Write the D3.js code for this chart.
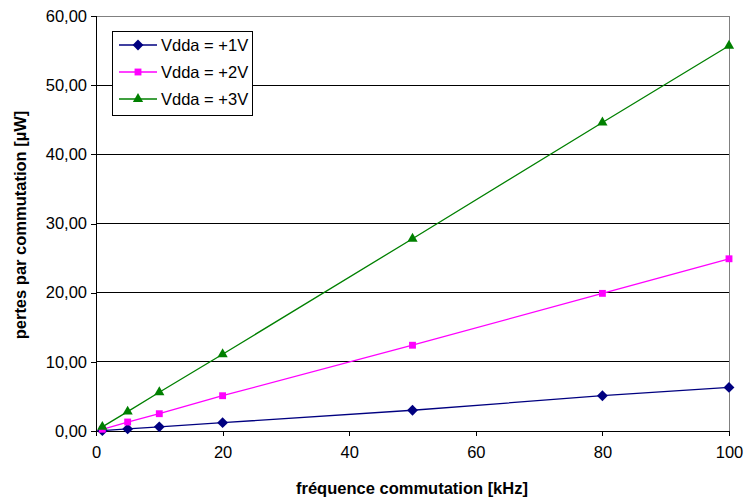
<!DOCTYPE html>
<html><head><meta charset="utf-8">
<script src="https://cdn.jsdelivr.net/npm/d3@7/dist/d3.min.js"></script>
<style>body{margin:0;background:#fff;} text{font-family:Arial,"Liberation Sans",sans-serif;}</style>
</head><body><svg id="c" width="744" height="499"></svg>
<script>
const freq = [1, 5, 10, 20, 50, 80, 100];
const vdda1 = [0.05, 0.3, 0.6, 1.2, 3.0, 5.1, 6.3];
const vdda2 = [0.25, 1.3, 2.5, 5.1, 12.4, 19.9, 24.9];
const vdda3 = [0.6, 2.8, 5.6, 11.1, 27.8, 44.6, 55.7];
const seriesNames = ["Vdda = +1V", "Vdda = +2V", "Vdda = +3V"];
const xTicks = [0, 20, 40, 60, 80, 100];
const yTicks = [0, 10, 20, 30, 40, 50, 60];

const series = [
  {name: seriesNames[0], values: vdda1, color: "#000080", shape: d3.symbolDiamond2, size: 75},
  {name: seriesNames[1], values: vdda2, color: "#ff00ff", shape: d3.symbolSquare2, size: 60},
  {name: seriesNames[2], values: vdda3, color: "#008000", shape: d3.symbolTriangle2, size: 75}
];

const svg = d3.select("#c");
const L = 96, R = 729, T = 16, B = 431;
const FS = 16.5;
const x = d3.scaleLinear().domain([0, 100]).range([L, R]);
const y = d3.scaleLinear().domain([0, 60]).range([B, T]);
const fmt = d => d3.format(".2f")(d).replace(".", ",");

// gridlines
svg.append("g").selectAll("line").data(yTicks.filter(d => d > 0 && d < 60)).join("line")
  .attr("x1", L).attr("x2", R).attr("y1", d => y(d)).attr("y2", d => y(d))
  .attr("stroke", "#000").attr("stroke-width", 1).attr("shape-rendering", "crispEdges");
// plot border top/right gray
svg.append("path").attr("d", `M${L},${T}H${R}V${B}`).attr("fill", "none")
  .attr("stroke", "#808080").attr("stroke-width", 1).attr("shape-rendering", "crispEdges");

// axes
const yAxis = d3.axisLeft(y).tickValues(yTicks).tickFormat(fmt).tickSize(5).tickPadding(4);
const gy = svg.append("g").attr("transform", `translate(${L},0)`).call(yAxis);
const xAxis = d3.axisBottom(x).tickValues(xTicks).tickSize(5).tickPadding(10);
const gx = svg.append("g").attr("transform", `translate(0,${B})`).call(xAxis);
[gx, gy].forEach(g => {
  g.select(".domain").attr("stroke", "#000").attr("shape-rendering", "crispEdges");
  g.selectAll(".tick line").attr("stroke", "#000").attr("shape-rendering", "crispEdges");
  g.selectAll("text").attr("font-size", FS).attr("fill", "#000").attr("font-family", "Arial, Liberation Sans, sans-serif");
});
gy.select(".domain").attr("d", `M-5,${B}H0V${T}H-5`);

// lines and markers
const line = d3.line().x((d, i) => x(freq[i])).y(d => y(d));
series.forEach(s => {
  svg.append("path").datum(s.values).attr("d", line).attr("fill", "none")
    .attr("stroke", s.color).attr("stroke-width", 1.3);
  svg.append("g").selectAll("path").data(s.values).join("path")
    .attr("d", d3.symbol().type(s.shape).size(s.size))
    .attr("transform", (d, i) => `translate(${x(freq[i])},${y(d)})`)
    .attr("fill", s.color);
});

// legend
const lg = svg.append("g");
lg.append("rect").attr("x", 112.5).attr("y", 31.5).attr("width", 140).attr("height", 84)
  .attr("fill", "#fff").attr("stroke", "#000");
series.forEach((s, i) => {
  const yy = 45 + i * 27;
  lg.append("line").attr("x1", 119).attr("x2", 157).attr("y1", yy).attr("y2", yy)
    .attr("stroke", s.color).attr("stroke-width", 1.3);
  lg.append("path").attr("d", d3.symbol().type(s.shape).size(s.size))
    .attr("transform", `translate(138,${yy})`).attr("fill", s.color);
  lg.append("text").attr("x", 161).attr("y", yy + 6).attr("font-size", FS).text(s.name);
});

// axis titles
svg.append("text").attr("x", 412).attr("y", 494).attr("text-anchor", "middle")
  .attr("font-size", FS).attr("font-weight", "bold").text("fréquence commutation [kHz]");
svg.append("text").attr("transform", "translate(26,225) rotate(-90)").attr("text-anchor", "middle")
  .attr("font-size", FS).attr("font-weight", "bold").text("pertes par commutation [µW]");
</script></body></html>
